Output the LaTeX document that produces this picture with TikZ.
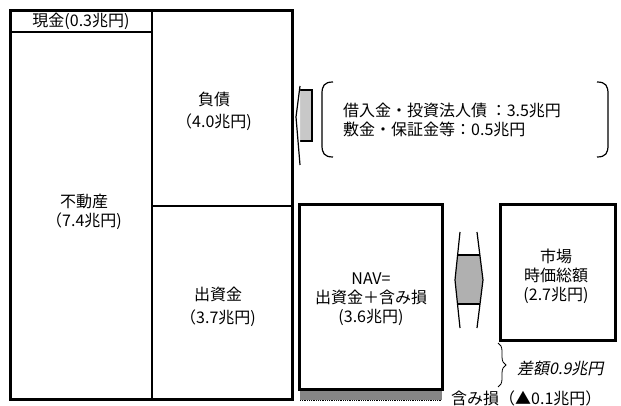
\documentclass[tikz,border=0pt]{standalone}
\usepackage{fontspec}
\setmainfont{Noto Sans CJK JP}
\newfontfamily\slantfont[FakeSlant=0.2]{Noto Sans CJK JP}
\usetikzlibrary{decorations.pathreplacing}
\definecolor{arrowgray}{HTML}{C8C8C8}
\definecolor{darrowgray}{HTML}{B0B0B0}
\definecolor{bargray}{HTML}{858585}
\tikzset{
  thickbox/.style={line width=3pt},
  divider/.style={line width=1.4pt},
  txt/.style={inner sep=0pt, align=center, font=\fontsize{16}{19}\selectfont},
  arrowshape/.style={line width=1.2pt, line join=miter},
}
\begin{document}
\begin{tikzpicture}[x=1pt,y=-1pt]
\useasboundingbox (0,0) rectangle (621,406);
% big balance sheet box
\draw[thickbox] (10,11) rectangle (292,399);
\draw[divider] (152,11) -- (152,399);
\draw[divider] (10,32) -- (152,32);
\draw[divider] (152,206) -- (292,206);
\node[txt] (cash) at (81,21) {現金(0.3兆円)};
\node[txt, font=\fontsize{16}{22}\selectfont] (debt) at (214,111) {負債\\（4.0兆円)};
\node[txt] (re) at (84,212) {不動産\\（7.4兆円)};
\node[txt, font=\fontsize{16}{23}\selectfont] (equity) at (218,307) {出資金\\（3.7兆円)};
% left arrow to callout
\filldraw[arrowshape, fill=arrowgray] (299.5,90) rectangle (312,141);
\draw[arrowshape, fill=white] (300,86) -- (296,117) -- (300,165);
% callout brackets
\draw[line width=1.2pt] (333,82) .. controls (324,82) and (322,86) .. (322,94) -- (322,145) .. controls (322,153) and (324,157) .. (333,157);
\draw[line width=1.2pt] (597,82) .. controls (606,82) and (608,86) .. (608,94) -- (608,145) .. controls (608,153) and (606,157) .. (597,157);
\node[txt, align=left, anchor=west] (callout) at (343,120) {借入金・投資法人債 ：3.5兆円\\敷金・保証金等：0.5兆円};
% NAV box
\draw[thickbox] (299,205) rectangle (442,389);
\fill[bargray] (300,391) rectangle (442,400);
\draw[densely dotted, line width=0.8pt] (300,400.5) -- (442,400.5);
\node[txt] (nav) at (371,299) {NAV=\\出資金＋含み損\\(3.6兆円)};
% double arrow
\fill[darrowgray] (457.6,255) -- (455,280) -- (457.5,304) -- (479.5,304) -- (483,280) -- (479.5,255) -- cycle;
\draw[arrowshape] (460,232) -- (455,280) -- (460,328);
\draw[arrowshape] (477,232) -- (483,280) -- (477,328);
\draw[arrowshape] (457.6,255) -- (479.5,255);
\draw[arrowshape] (457.5,304) -- (479.5,304);
% market cap box
\draw[thickbox] (500,205) rectangle (615,340);
\node[txt] (mkt) at (556,276) {市場\\時価総額\\(2.7兆円)};
% brace and labels
\draw[decorate, decoration={brace, amplitude=8pt}, line width=0.8pt] (498,343) -- (498,387);
\node[txt, anchor=west, font=\fontsize{16}{19}\slantfont] (diff) at (517,368) {差額0.9兆円};
\node[txt, anchor=west] (loss) at (451,398) {含み損（▲0.1兆円）};
\end{tikzpicture}
\end{document}
